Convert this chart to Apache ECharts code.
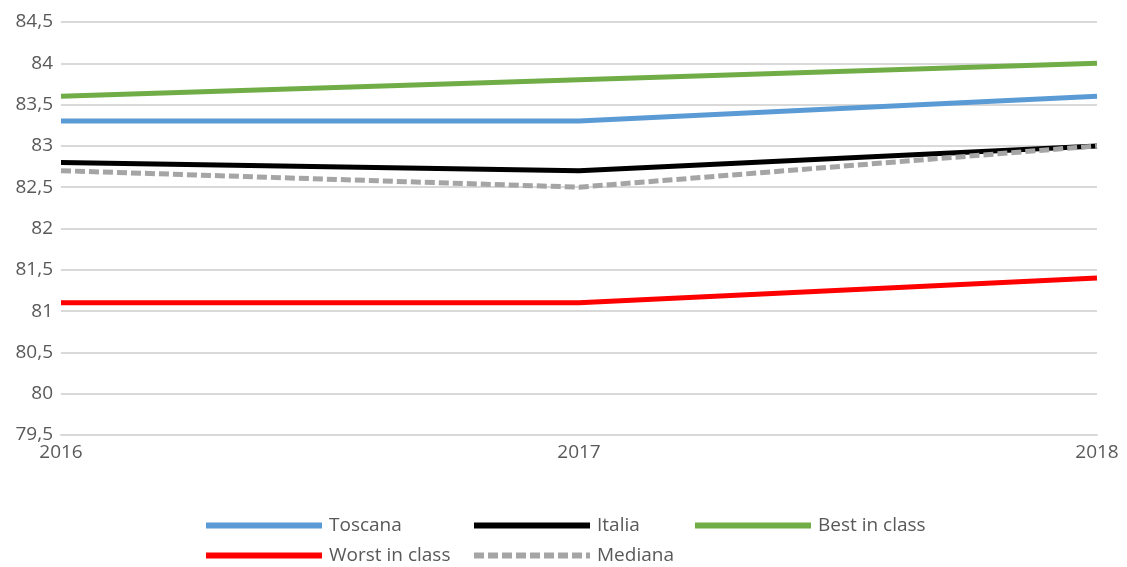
<!DOCTYPE html>
<html>
<head>
<meta charset="utf-8">
<script src="https://cdn.jsdelivr.net/npm/echarts@6/dist/echarts.min.js"></script>
<style>
  html, body { margin: 0; padding: 0; background: #fff; }
  #chart { width: 1127px; height: 567px; }
</style>
</head>
<body>
<div id="chart"></div>
<script>
// Years on the horizontal axis
const years = ['2016', '2017', '2018'];

// Series values per year
const toscana = [83.3, 83.3, 83.6];
const italia = [82.8, 82.7, 83.0];
const bestInClass = [83.6, 83.8, 84.0];
const worstInClass = [81.1, 81.1, 81.4];
const mediana = [82.7, 82.5, 83.0];

const textColor = '#595959';
const fontFamily = '"Open Sans", "Noto Sans", sans-serif';
const fontSize = 19;

const chart = echarts.init(document.getElementById('chart'), null, { renderer: 'canvas' });

function lineSeries(name, data, color, dashed) {
  return {
    name: name,
    type: 'line',
    data: data,
    symbol: 'none',
    smooth: false,
    lineStyle: { color: color, width: 5, type: dashed ? [10, 4] : 'solid', cap: 'butt' },
    itemStyle: { color: color },
    emphasis: { disabled: true }
  };
}

// Legend laid out as columns so entries line up across the two rows
function legendColumn(names, left) {
  return {
    data: names,
    orient: 'vertical',
    left: left,
    top: 516,
    padding: 0,
    height: 51,
    itemGap: 11,
    itemWidth: 116,
    itemHeight: 20,
    selectedMode: false,
    itemStyle: { opacity: 0 },
    lineStyle: { width: 6, inactiveWidth: 6 },
    textStyle: { color: textColor, fontSize: fontSize, fontFamily: fontFamily, padding: [0, 0, 0, 2] }
  };
}

chart.setOption({
  animation: false,
  backgroundColor: '#ffffff',
  grid: { left: 61, right: 30, top: 22, bottom: 132 },
  legend: [
    legendColumn(['Toscana', 'Worst in class'], 203),
    legendColumn(['Italia', 'Mediana'], 471),
    legendColumn(['Best in class'], 692)
  ],
  xAxis: {
    type: 'category',
    data: years,
    boundaryGap: false,
    axisLine: { show: true, lineStyle: { color: '#d9d9d9', width: 2 } },
    axisTick: { show: false },
    axisLabel: {
      color: textColor, fontSize: fontSize, fontFamily: fontFamily, margin: 8,
      interval: 0, showMinLabel: true, showMaxLabel: true
    },
    splitLine: { show: false }
  },
  yAxis: {
    type: 'value',
    min: 79.5,
    max: 84.5,
    interval: 0.5,
    axisLine: { show: false },
    axisTick: { show: false },
    axisLabel: {
      color: textColor, fontSize: fontSize, fontFamily: fontFamily, margin: 8,
      formatter: function (v) { return String(Math.round(v * 10) / 10).replace('.', ','); }
    },
    splitLine: { show: true, lineStyle: { color: '#d9d9d9', width: 2 } }
  },
  series: [
    lineSeries('Toscana', toscana, '#5b9bd5', false),
    lineSeries('Italia', italia, '#000000', false),
    lineSeries('Best in class', bestInClass, '#70ad47', false),
    lineSeries('Worst in class', worstInClass, '#ff0000', false),
    lineSeries('Mediana', mediana, '#a5a5a5', true)
  ]
});
</script>
</body>
</html>
